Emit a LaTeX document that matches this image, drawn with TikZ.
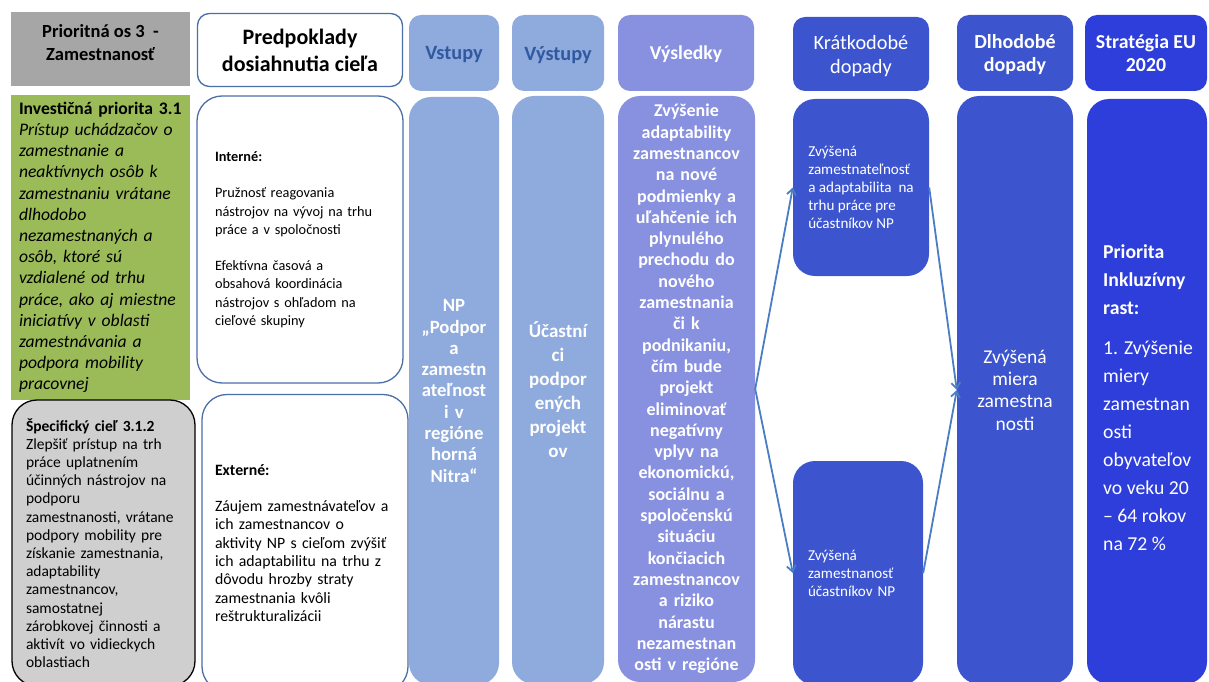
\documentclass[tikz,border=0pt]{standalone}
\usepackage{fontspec}
\setmainfont{Carlito}
\usetikzlibrary{arrows.meta}
\definecolor{sivaHlava}{HTML}{A6A6A6}
\definecolor{sivaCiel}{HTML}{CFCFCF}
\definecolor{zelena}{HTML}{9BBB59}
\definecolor{ramModra}{HTML}{4A6EA8}
\definecolor{svetloModra}{HTML}{8FAADC}
\definecolor{tmavoText}{HTML}{3159A0}
\definecolor{fialova}{HTML}{8890E0}
\definecolor{stredModra}{HTML}{3C55CF}
\definecolor{sytoModra}{HTML}{2E3EDB}
\definecolor{sipkaModra}{HTML}{4A7DC3}

\begin{document}
\begin{tikzpicture}[x=1pt, y=-1pt,
    hlava/.style = {rounded corners=12pt, align=center, inner sep=2pt, minimum height=76pt, text depth=0pt},
    telo/.style = {rounded corners=22pt, align=center, inner ysep=0pt, text=white},
    biely/.style = {rounded corners=25pt, align=left, inner ysep=0pt, fill=white, draw=ramModra, line width=1.3pt},
    sipka/.style = {-{Straight Barb[length=6pt, width=9pt]}, line width=1.8pt, sipkaModra}]
    % Rozmery
    \useasboundingbox (0,0) rectangle (1209,682);
    \clip (0,0) rectangle (1209,682);
    % Hlavicky
    \node[fill=sivaHlava, minimum width=179pt, minimum height=74pt] (osH) at (100.5,49) {};
    \node[align=center, inner sep=0pt, font=\fontsize{18.5}{23}\selectfont\bfseries] (osT) at (100.5,42.5)
        {Prioritná os 3~~-\\Zamestnanosť};
    \node[hlava, fill=white, draw=ramModra, line width=1.3pt, minimum width=205pt, minimum height=73pt,
        font=\fontsize{22}{27}\selectfont\bfseries] (predH) at (300,50) {Predpoklady\\dosiahnutia cieľa};
    \node[hlava, fill=svetloModra, text=tmavoText, minimum width=90pt,
        font=\fontsize{20.3}{22}\selectfont\bfseries] (vstH) at (454,53) {Vstupy};
    \node[hlava, fill=svetloModra, text=tmavoText, minimum width=92pt,
        font=\fontsize{20.3}{22}\selectfont\bfseries] (vysH) at (558,53) {Výstupy};
    \node[hlava, fill=fialova, text=white, minimum width=136pt,
        font=\fontsize{19.6}{22}\selectfont\bfseries] (rsH) at (686,53) {Výsledky};
    \node[hlava, fill=stredModra, text=white, minimum width=136pt, minimum height=74pt,
        font=\fontsize{20.3}{24}\selectfont] (ktH) at (861,54) {Krátkodobé\\dopady};
    \node[hlava, fill=stredModra, text=white, minimum width=116pt,
        font=\fontsize{20}{23}\selectfont\bfseries] (dlH) at (1015,53) {Dlhodobé\\dopady};
    \node[hlava, fill=sytoModra, text=white, minimum width=122pt,
        font=\fontsize{19.8}{23}\selectfont\bfseries] (euH) at (1146,53) {Stratégia EU\\2020};
    % Prioritna os
    \node[fill=zelena, minimum width=179pt, minimum height=305pt, text width=163pt, inner xsep=8pt,
        inner ysep=0pt, align=left, font=\fontsize{17.6}{21.2}\selectfont] (invest) at (100.5,247.5)
        {\textbf{Investičná priorita 3.1}\\ \itshape Prístup uchádzačov o\\ zamestnanie a\\ neaktívnych osôb k\\
        zamestnaniu vrátane\\ dlhodobo\\ nezamestnaných a\\ osôb, ktoré sú\\ vzdialené od trhu\\
        práce, ako aj miestne\\ iniciatívy v oblasti\\ zamestnávania a\\ podpora mobility\\ pracovnej};
    \node[fill=sivaCiel, draw=black, line width=1.3pt, rounded corners=25pt, minimum width=183pt,
        minimum height=286pt, text width=155pt, inner xsep=14pt, inner ysep=0pt, align=left,
        font=\fontsize{15.5}{18.2}\selectfont] (ciel) at (103.5,543)
        {\textbf{Špecifický cieľ 3.1.2}\\ Zlepšiť prístup na trh\\ práce uplatnením\\ účinných nástrojov na\\
        podporu\\ zamestnanosti, vrátane\\ podpory mobility pre\\ získanie zamestnania,\\ adaptability\\
        zamestnancov,\\ samostatnej\\ zárobkovej činnosti a\\ aktivít vo vidieckych\\ oblastiach};
    % Predpoklady
    \node[biely, minimum width=206pt, minimum height=287pt, text width=170pt, inner xsep=18pt,
        font=\fontsize{14.3}{18.5}\selectfont] (interne) at (300,239.5)
        {\textbf{Interné:}\\[18pt] Pružnosť reagovania\\ nástrojov na vývoj na trhu\\ práce a v spoločnosti\\[17pt]
        Efektívna časová a\\ obsahová koordinácia\\ nástrojov s ohľadom na\\ cieľové skupiny};
    \node[biely, minimum width=206pt, minimum height=297pt, text width=180pt, inner xsep=13pt,
        font=\fontsize{15.8}{18.3}\selectfont] (externe) at (305,543)
        {\textbf{Externé:}\\[18pt] Záujem zamestnávateľov a\\ ich zamestnancov o\\ aktivity NP s cieľom zvýšiť\\
        ich adaptabilitu na trhu z\\ dôvodu hrozby straty\\ zamestnania kvôli\\ reštrukturalizácii};
    % Stlpce
    \node[telo, fill=svetloModra, minimum width=90pt, minimum height=588pt, text width=86pt, inner xsep=2pt,
        font=\fontsize{18.7}{21.3}\selectfont\bfseries] (vstupy) at (454,391)
        {NP\\ „Podpor\\ a\\ zamestn\\ ateľnost\\ i v\\ regióne\\ horná\\ Nitra“};
    \node[telo, fill=svetloModra, minimum width=92pt, minimum height=588pt, text width=88pt, inner xsep=2pt,
        font=\fontsize{19}{24}\selectfont\bfseries] (vystupy) at (558,390)
        {Účastní\\ ci\\ podpor\\ ených\\ projekt\\ ov};
    \node[telo, fill=fialova, minimum width=137pt, minimum height=586pt, text width=133pt, inner xsep=2pt,
        font=\fontsize{18}{21.3}\selectfont\bfseries] (res) at (686.5,389)
        {Zvýšenie\\ adaptability\\ zamestnancov\\ na nové\\ podmienky a\\ uľahčenie ich\\ plynulého\\
        prechodu do\\ nového\\ zamestnania\\ či k\\ podnikaniu,\\ čím bude\\ projekt\\ eliminovať\\
        negatívny\\ vplyv na\\ ekonomickú,\\ sociálnu a\\ spoločenskú\\ situáciu\\ končiacich\\
        zamestnancov\\ a riziko\\ nárastu\\ nezamestnan\\ osti v regióne};
    \node[telo, fill=stredModra, minimum width=136pt, minimum height=177pt, inner xsep=2pt,
        align=left, font=\fontsize{15.1}{18}\selectfont] (kt1) at (861,187.5)
        {Zvýšená\\ zamestnateľnosť\\ a adaptabilita~~na\\ trhu práce pre\\ účastníkov NP};
    \node[telo, fill=stredModra, minimum width=130pt, minimum height=224pt, text width=100pt, inner xsep=15pt,
        align=left, font=\fontsize{15.1}{18}\selectfont] (kt2) at (858,573)
        {Zvýšená\\ zamestnanosť\\ účastníkov NP};
    \node[telo, fill=stredModra, minimum width=116pt, minimum height=588pt, text width=112pt, inner xsep=2pt,
        font=\fontsize{19.5}{22.3}\selectfont] (dl) at (1015,390)
        {Zvýšená\\ miera\\ zamestna\\ nosti};
    \node[telo, fill=sytoModra, minimum width=120pt, minimum height=585pt] (eu) at (1147,391.5) {};
    \node[anchor=west, align=left, inner sep=0pt, text=white, font=\fontsize{19.7}{28}\selectfont] (euT)
        at (1103,397.5)
        {\textbf{Priorita}\\ \textbf{Inkluzívny}\\ \textbf{rast:}\\[12pt] 1. Zvýšenie\\ miery\\ zamestnan\\ osti\\
        obyvateľov\\ vo veku 20\\ – 64 rokov\\ na 72~\%};
    % Sipky
    \draw[sipka] (res.east) -- (kt1.west);
    \draw[sipka] (res.east) -- (kt2.west);
    \draw[sipka] (kt1.east) -- (dl.west);
    \draw[sipka] (kt2.east) -- (dl.west);
\end{tikzpicture}
\end{document}
